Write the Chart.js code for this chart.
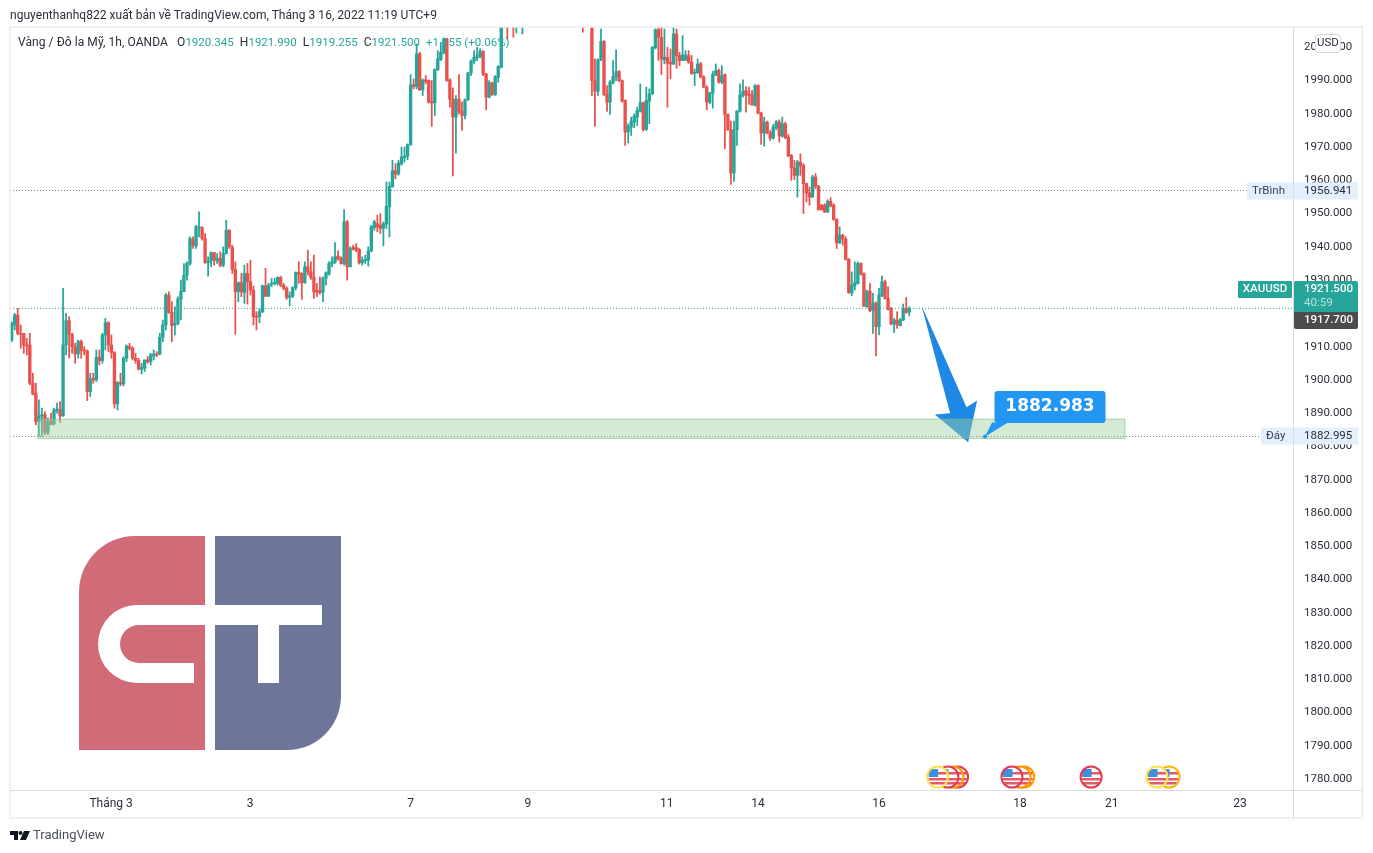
<!DOCTYPE html>
<html>
<head>
<meta charset="utf-8">
<title>XAUUSD</title>
<script src="https://cdn.jsdelivr.net/npm/chart.js"></script>
<style>
body { margin: 0; background: #fff; width: 1373px; height: 853px; overflow: hidden; font-family: Roboto, sans-serif; color: #131722; }
#wrap { position: absolute; left: 0; top: 0; width: 1373px; height: 853px; }
#head { position: absolute; left: 10px; top: 8px; font-size: 12px; letter-spacing: 0.04px; color: #2a2e39; white-space: pre; }
#info { position: absolute; left: 18px; top: 35px; font-size: 12px; letter-spacing: 0.07px; color: #2a2e39; white-space: pre; }
#info b { font-weight: 400; font-size: 11.5px; letter-spacing: 0; color: #26a69a; }
#foot { position: absolute; left: 33px; top: 827px; font-size: 13px; color: #4a4e59; }
#mark { position: absolute; left: 10px; top: 830px; }
</style>
</head>
<body>
<div id="wrap"><canvas id="ess" width="1373" height="853"></canvas></div>
<div id="head">nguyenthanhq822 xuất bản về TradingView.com, Tháng 3 16, 2022 11:19 UTC+9</div>
<div id="info">Vàng / Đô la Mỹ, 1h, OANDA   O<b>1920.345</b>  H<b>1921.990</b>  L<b>1919.255</b>  C<b>1921.500</b>  <b>+1.155 (+0.06%)</b></div>
<svg id="mark" width="20" height="11" viewBox="0 0 20 11"><path d="M0 1h8v9H4V5H0z M14 1h6l-4 9h-6z" fill="#131722"/><circle cx="10.5" cy="3" r="2" fill="#131722"/></svg>
<div id="foot">TradingView</div>
<script>
const opens = [1912,1916.5,1919.5,1914,1914,1910.5,1910.5,1899,1896,1887.5,1889.2,1889.5,1884.2,1887.8,1886.8,1890.8,1891,1889.2,1910.5,1917.8,
1913.7,1910,1907.8,1911.5,1909,1908.7,1896.5,1900.5,1900,1906.8,1905.8,1913.5,1917.2,1910.5,1908.2,1892.8,1899.2,1898.8,1906.5,1910,
1909.5,1906.5,1905.8,1903.2,1903.5,1906,1905.5,1907.2,1907.8,1907.8,1912.8,1916.5,1925.5,1920.3,1916.5,1917,1924.3,1926.5,1931.5,1935,
1942.2,1940.3,1945.8,1945.8,1942.5,1935.2,1935.8,1938.3,1935.8,1936.5,1934.5,1938,1945,1939.8,1933.2,1926.5,1929.2,1926.2,1932,1929.5,
1927,1919,1919,1920.5,1928.3,1925.2,1928.7,1929,1929,1930.8,1928.5,1927.5,1924.8,1925.2,1927.8,1932.3,1932,1929.2,1934,1932.5,
1930.8,1927,1926.8,1926.3,1930.5,1931.8,1935,1935.3,1937.2,1936.5,1935,1947.5,1934,1939.8,1939.8,1939.2,1935.2,1935.8,1936,1938.8,
1945.8,1947,1946.5,1945.6,1946.8,1952,1958,1962.9,1962,1965,1966.8,1967.2,1970.7,1988.7,1988.2,1998,1987.2,1990.2,1990,1983.7,
1983.3,1993.3,1996.2,1998.3,2002.5,1990.2,1984.4,1979,1984.4,1980.8,1979.5,1984.2,1992.3,1995.8,1996.8,1997.3,1998.8,1992,1985,1989.3,
1985.8,1991,1994,2010,2014,2012,2016,2012,2017,2018,2022,2030,2038,2034,2044,2052,2046,2058,2050,2044,
2038,2046,2036,2030,2034,2028,2022,2026,2020,2018,2014,2016,2012,1990,1986.8,1996.2,2001.8,1985.7,1983.5,1989.3,
1991,1992.7,1990,1984,1974.5,1976,1977.5,1979,1980.8,1983.3,1975.3,1983.8,1986,1999.8,2005.3,2003,1996.2,1997,1995.5,1995,
2004,1997.5,1996,1996.2,1997.5,1995.5,1992.2,1992.3,1995,1991,1988,1983.5,1986.2,1991.6,1993,1989.5,1991.8,1979.8,1975.2,1962.2,
1975.2,1980.8,1985.5,1987,1986,1985.7,1982.5,1988.5,1980.2,1974.2,1977.5,1974.2,1972.7,1975.8,1977.6,1973.3,1977,1973,1967.5,1963.7,
1961.5,1965.5,1964.5,1959,1956.2,1955,1961,1958.2,1952.5,1952.5,1950.5,1953.7,1952.5,1948.2,1941.2,1943.5,1942.3,1936.2,1926.2,1928.3,
1929,1935,1932,1922,1926.7,1920.8,1923.2,1916,1925.3,1929.5,1924.5,1921.5,1916.8,1918,1916.3,1918,1921.3,1920.345];
const closes = [1917,1919.5,1914,1913.7,1910.5,1910.2,1899,1895.7,1887.5,1889.2,1889.5,1884.2,1887.5,1886.6,1891,1891.2,1889.2,1910.5,1917.8,1913.7,
1910,1907.8,1911.5,1908.8,1908.7,1896.5,1900.3,1900,1906.8,1905.8,1913.5,1917.2,1910.5,1908.2,1892.8,1899.2,1898.8,1906.5,1910.2,1909.5,
1906.5,1905.8,1903.2,1903.7,1906,1905.5,1907.5,1907.8,1907.5,1912.8,1916.5,1925.5,1920.3,1916.3,1917,1924.3,1926.7,1931.5,1935,1942.5,
1940.3,1946,1946,1942.5,1935.3,1935.8,1938.3,1936,1936.5,1934.5,1938,1945,1940,1933.2,1926.5,1929.2,1926.5,1932,1929.5,1927,
1919,1918.8,1920.5,1928.3,1925.2,1928.5,1929,1929.3,1930.8,1928.5,1927.5,1924.8,1925.3,1927.8,1932.3,1931.8,1929.2,1934,1932.5,1930.8,
1926.5,1926.3,1926.3,1930.5,1932.2,1935,1935.5,1937,1936.4,1935,1947.5,1934,1939.5,1939.3,1939,1935.2,1936,1936.2,1938.8,1946,
1947.5,1946,1945.6,1947,1952.2,1958.2,1962.9,1961.8,1965.2,1967,1967.2,1970.7,1988.7,1988.2,1998,1987.2,1990.2,1989.7,1983.5,1983.3,
1993.3,1996.5,1998.5,2002.5,1990,1984.4,1979,1984.4,1980.8,1979.5,1984.2,1992.3,1995.8,1997,1997.5,1998.8,1992,1985,1989.3,1985.8,
1991.2,1994.2,2010,2014,2012,2016,2012,2017,2019,2022,2030,2038,2034,2044,2052,2046,2058,2050,2044,2038,
2046,2036,2030,2034,2028,2022,2026,2020,2018,2014,2016,2012,1990,1986.8,1996.2,2001.8,1985.7,1983.5,1989.5,1991.2,
1992.7,1990,1983.8,1974.5,1976.2,1977.8,1979.3,1981,1983.3,1975.3,1984,1986,2000,2005.3,2003,1996.5,1997,1995.2,1995,2004,
1997.5,1996,1997.7,1997.7,1995.5,1992.2,1992.5,1995,1991,1988,1983.5,1986.2,1991.8,1993,1989.5,1991.5,1979.8,1975.2,1962.2,1975.2,
1980.8,1985.7,1986.8,1985.7,1985.5,1982.7,1988.5,1980.2,1974.2,1977.5,1974.2,1972.7,1976,1977.6,1973.3,1977,1972.8,1967.3,1963.7,1961.5,
1965.5,1964.3,1959,1956.2,1955,1961,1958.2,1951.2,1951.2,1950.5,1953.7,1952.3,1948.2,1941.2,1943.5,1942.3,1936.2,1926.2,1928.5,1929.2,
1935,1931.8,1922.2,1926.7,1920.8,1923,1916,1925.5,1929.5,1924.5,1921.2,1916.8,1918,1916.5,1918,1921.3,1920.3,1921.5];
const highs = [1917.5,1920,1921.5,1916.5,1914,1912.5,1914,1902,1899,1894,1891.5,1890.5,1888.5,1890,1891.5,1893,1893.5,1927.5,1920,1919,
1914,1911,1912,1912,1910,1909,1902,1902,1909,1909,1914,1918.5,1917.5,1913.5,1908.5,1899.5,1902,1907,1910.5,1911,
1910,1908,1906.5,1905,1906,1907,1908,1909,1908.5,1914,1918,1926,1926.5,1923.5,1922,1925,1930,1935,1935.5,1943,
1943,1946.5,1950.5,1946,1944,1937,1938.5,1938.3,1938,1938.5,1940,1948,1945.2,1940.5,1935.5,1929.5,1932,1934.5,1935,1936,
1928.2,1920.5,1921.5,1928.5,1933.5,1929,1930.5,1930.5,1931,1931.2,1929,1928,1926.5,1928,1932.5,1935.5,1932.2,1935.5,1939,1935.5,
1937.5,1929,1931,1931,1932.5,1935.5,1937,1941.3,1938.8,1937,1951.2,1948,1940,1940.5,1941,1939.5,1937,1937.5,1940,1946.5,
1948,1949.5,1950,1947.5,1959.5,1959.5,1966,1965,1966,1970,1970,1971,1991.8,1990.5,2001,1998.5,1990.5,1991.5,1990.2,1990,
1993.5,1999,2001.5,2002.8,2002.7,1990.5,1987.8,1985.5,1991.8,1983.5,1984.5,1992.5,1996.2,1999,2000,1999.5,1999,1992.2,1990,1989.5,
1991.5,1994.5,2014,2018,2018,2019,2020,2022,2023,2026,2034,2042,2044,2048,2056,2058,2062,2064,2054,2050,
2050,2048,2042,2038,2038,2032,2030,2030,2024,2022,2020,2020,2014,1996.5,1996.5,2005.5,2002,1988.5,1990,1996,
1999.2,1993,1990.2,1984.2,1977,1979,1980,1982,1989,1983.5,1988,1987.5,2000.2,2005.5,2006,2006,2005.5,2000,1999.5,2006,
2005.5,1998.5,2003.5,1999,1999,1997.5,1993.5,1996.5,1995.5,1991.5,1988.5,1986.5,1992.8,1995,1993.5,1994.5,1992,1980,1977.8,1977.8,
1981,1989,1990.2,1988.2,1988,1987,1988.8,1988.7,1980.5,1979,1977.8,1975,1976.8,1978,1978.2,1979,1977.5,1973.8,1967.8,1966,
1966,1968,1965,1959.2,1958,1961.5,1962,1958.5,1952.8,1953,1954.2,1954.8,1953,1948.5,1946,1943.8,1943,1936.5,1932.5,1935.5,
1935.5,1935.2,1932.2,1927,1929,1926,1923.5,1927.5,1931.2,1930,1928,1921.8,1918.5,1920.5,1918.5,1922.8,1924.8,1921.99];
const lows = [1911.5,1915,1913.5,1909.5,1908,1907.5,1898.5,1895.5,1886.5,1883,1883,1883.5,1883.5,1886.5,1886.5,1890,1887.2,1889,1907.5,1906.5,
1908,1905,1906.5,1906.5,1907.5,1893.8,1895,1899,1899.5,1904.5,1905,1909,1908.5,1906.5,1891.5,1891,1898.2,1898.2,1905.5,1909,
1906,1905,1903,1901.8,1902.5,1905,1904.5,1906,1907,1907.5,1911.5,1915,1920,1911.5,1913.5,1916.5,1918,1926.5,1930,1934.5,
1939.5,1939.5,1943,1942,1935,1931.2,1934,1934.5,1935,1934,1934,1937.8,1939.5,1932,1913.7,1923.5,1925,1923,1922.8,1925.5,
1916.5,1915,1917.2,1920.2,1925,1925,1928,1928.5,1928.5,1928,1927,1924.2,1922.3,1924.7,1927,1929,1924.2,1929,1931.5,1930.2,
1924.5,1925,1925.8,1923.5,1928.5,1931.5,1934,1935,1936,1934.8,1934.5,1930,1934,1939,1938.5,1934.8,1934.5,1935,1934.2,1938.5,
1945,1944.5,1944,1940.3,1945.5,1943,1958,1960.5,1961.5,1964.5,1965.5,1966.2,1970.5,1987.5,1987.5,1987,1985.5,1989,1983.2,1976.2,
1979.5,1993,1996,1998,1989.8,1982,1961.3,1968.2,1980,1975,1978.5,1984,1991.5,1995,1996,1996.8,1991.5,1981.2,1984.8,1985.5,
1985.5,1989.5,1993.8,2006,2002.5,2008,2003,2004.3,2009,2004,2018,2026,2030,2032,2040,2042,2044,2046,2040,2034,
2034,2032,2026,2026,2024,2018,2016,2014,2012,2004.5,2010,2008,1985.5,1976.2,1985.5,1996,1985.5,1980.7,1979.8,1989,
1990,1989.7,1983.5,1970.5,1971.2,1973.5,1975.8,1976.5,1980.5,1974.8,1975,1977,1985.8,1999.5,1996,1991.8,1995,1982,1990.5,1994.8,
1993.7,1994.5,1996,1996,1995.2,1991.8,1988.5,1992.2,1990.8,1987.8,1981.2,1983,1981.7,1991.5,1989.2,1989,1969.5,1975,1958.8,1959.7,
1970.5,1980.5,1985,1980.5,1982.8,1982.5,1982.3,1980,1970.8,1970.3,1974,1972,1972.4,1975.2,1971.5,1973,1972.5,1967.2,1960,1960.2,
1955,1961.5,1950,1953.5,1952.5,1954.8,1957.5,1951,1951,1950.3,1950.3,1952,1948,1939.5,1941,1940.5,1936,1926,1925.3,1927,
1928.8,1931.5,1922,1921.8,1920.5,1914,1907.2,1913.5,1925,1924.3,1921,1916.5,1914.2,1915.5,1916.2,1917.8,1920,1919.255];

// axis
const priceTicks = [1780,1790,1800,1810,1820,1830,1840,1850,1860,1870,1880,1890,1900,1910,1920,1930,1940,1950,1960,1970,1980,1990,2000];
const dayTicks = [32.9,78.9,132,170.8,216.8,247,287,333.7,364,406.5];
const dayLabels = ['Tháng 3','3','7','9','11','14','16','18','21','23'];
const xMin = -0.56, xMax = 424, yMin = 1776.7, yMax = 2006.1;

// price lines
const avgPrice = 1956.941, lastPrice = 1921.5, lowPrice = 1882.995, prevClose = 1917.7;
const lineEnds = [408.7, 413.9, 424]; // TrBình, Đáy labels, axis edge (bar index)

// drawing: zone, arrow, callout, events
const zoneBars = [8.7, 368.4];
const zonePrices = [1888.2, 1882.4];
const arrowFrom = [301.1, 1922.3];
const arrowTo = [316.5, 1881.25];
const calloutAt = [322.1, 1882.995];
const calloutText = '1882.983';
const eventBars = [313, 311.5, 309.8, 306.4, 334.9, 333.7, 331, 357.2, 383, 379];
const eventRings = ['#e53950','#ff9800','#e53950','#ffe14d','#ff9800','#ff9800','#e53950','#e53950','#ffb300','#ffe14d'];

const up = '#26a69a', down = '#e8514e';
const colors = opens.map((o, i) => closes[i] >= o ? up : down);
const bodies = opens.map((o, i) => ({x: i, y: [Math.min(o, closes[i]), Math.max(o, closes[i])]}));
const wicks = lows.map((l, i) => ({x: i, y: [l, highs[i]]}));

function hline(price, end, color) {
  return {type: 'line', data: [{x: xMin, y: price}, {x: end, y: price}], borderColor: color, borderWidth: 1, borderDash: [1, 2], pointRadius: 0, order: 5};
}

function box(ctx, x, y, w, h, fill, r) {
  ctx.fillStyle = fill;
  ctx.beginPath();
  ctx.roundRect(x, y, w, h, r || 0);
  ctx.fill();
}

function label(ctx, txt, x, y, color, font, align) {
  ctx.fillStyle = color;
  ctx.font = font;
  ctx.textAlign = align || 'left';
  ctx.textBaseline = 'middle';
  ctx.fillText(txt, x, y);
}

function drawLogo(ctx) {
  ctx.fillStyle = '#d16b78';
  ctx.beginPath();
  ctx.roundRect(79, 536, 126, 214, [56, 0, 0, 0]);
  ctx.fill();
  ctx.fillStyle = '#6d7699';
  ctx.beginPath();
  ctx.roundRect(215, 536, 126, 214, [0, 0, 54, 0]);
  ctx.fill();
  ctx.fillStyle = '#fff';
  ctx.beginPath();
  ctx.moveTo(205, 605);
  ctx.lineTo(137, 605);
  ctx.arc(137, 644, 39, -Math.PI / 2, Math.PI / 2, true);
  ctx.lineTo(194, 683);
  ctx.lineTo(194, 663);
  ctx.lineTo(139, 663);
  ctx.arc(139, 644, 19, Math.PI / 2, -Math.PI / 2, false);
  ctx.lineTo(205, 625);
  ctx.closePath();
  ctx.fill();
  ctx.fillRect(215, 605, 107, 20);
  ctx.fillRect(258, 625, 21, 58);
}

function drawFlag(ctx, x, y, ring) {
  ctx.save();
  ctx.beginPath();
  ctx.arc(x, y, 10.5, 0, Math.PI * 2);
  ctx.fillStyle = '#fff';
  ctx.fill();
  ctx.clip();
  ctx.fillStyle = '#e25a6a';
  ctx.fillRect(x - 1, y - 5, 10, 2.5);
  ctx.fillRect(x - 9, y + 1, 18, 2.5);
  ctx.fillRect(x - 9, y + 5, 18, 2.5);
  ctx.fillStyle = '#3d8fe0';
  ctx.fillRect(x - 9, y - 8, 9.5, 8);
  ctx.restore();
  ctx.beginPath();
  ctx.arc(x, y, 10.5, 0, Math.PI * 2);
  ctx.strokeStyle = ring;
  ctx.lineWidth = 2;
  ctx.stroke();
}

const overlay = {
  id: 'overlay',
  afterDraw(chart) {
    const ctx = chart.ctx, sx = chart.scales.x, sy = chart.scales.y, area = chart.chartArea;
    const px = v => sx.getPixelForValue(v), py = v => sy.getPixelForValue(v);
    ctx.save();

    drawLogo(ctx);

    // frame
    ctx.strokeStyle = '#e9ebef';
    ctx.lineWidth = 1.5;
    ctx.strokeRect(10, 27, 1352.5, 791);
    ctx.strokeStyle = '#d9dbe0';
    ctx.lineWidth = 1;
    ctx.beginPath();
    ctx.moveTo(10, area.bottom + 0.5); ctx.lineTo(1362, area.bottom + 0.5);
    ctx.moveTo(area.right + 0.5, 27); ctx.lineTo(area.right + 0.5, 818);
    ctx.stroke();

    // arrow
    const ax = px(arrowFrom[0]), ay = py(arrowFrom[1]), tx = px(arrowTo[0]), ty = py(arrowTo[1]);
    ctx.fillStyle = '#1e88e5';
    ctx.beginPath();
    ctx.moveTo(ax, ay);
    ctx.lineTo(tx - 1.6, ty - 35);
    ctx.lineTo(tx + 9, ty - 41.7);
    ctx.lineTo(tx, ty);
    ctx.lineTo(tx - 33.3, ty - 27.7);
    ctx.lineTo(tx - 18, ty - 29);
    ctx.closePath();
    ctx.fill();

    // zone
    const zx = px(zoneBars[0]), zw = px(zoneBars[1]) - zx, zy = py(zonePrices[0]), zh = py(zonePrices[1]) - zy;
    ctx.fillStyle = 'rgba(162,209,162,0.45)';
    ctx.fillRect(zx, zy, zw, zh);
    ctx.strokeStyle = 'rgba(120,190,120,0.6)';
    ctx.strokeRect(zx, zy, zw, zh);

    // callout
    const cx = px(calloutAt[0]), cy = py(calloutAt[1]);
    box(ctx, 994.5, 391, 111, 32, '#2196f3', 3);
    ctx.fillStyle = '#2196f3';
    ctx.beginPath();
    ctx.moveTo(cx, cy);
    ctx.lineTo(cx + 7, cy - 14);
    ctx.lineTo(cx + 23, cy - 14);
    ctx.closePath();
    ctx.fill();
    ctx.beginPath();
    ctx.arc(cx, cy, 2, 0, Math.PI * 2);
    ctx.fill();
    label(ctx, calloutText, 1050, 407, '#fff', 'bold 17px "DejaVu Sans"', 'center');

    // events
    const ey = area.bottom - 13;
    eventBars.forEach((b, i) => drawFlag(ctx, px(b), ey, eventRings[i]));

    // price labels
    const font = '11.5px Roboto', bold = '500 11.5px Roboto', valX = 1304;
    const avgY = Math.round(py(avgPrice)), lastY = Math.round(py(lastPrice)), lowY = Math.round(py(lowPrice));
    box(ctx, 1247, avgY - 8.5, 46, 17, '#e3effd');
    box(ctx, 1294, avgY - 8.5, 64, 17, '#e3effd');
    label(ctx, 'TrBình', 1252, avgY, '#3a3f4b', font);
    label(ctx, avgPrice.toFixed(3), valX, avgY, '#2a2e39', font);

    box(ctx, 1261, lowY - 8.5, 32, 17, '#e3effd');
    box(ctx, 1294, lowY - 8.5, 64, 17, '#e3effd');
    label(ctx, 'Đáy', 1266, lowY, '#3a3f4b', font);
    label(ctx, lowPrice.toFixed(3), valX, lowY, '#2a2e39', font);

    box(ctx, 1238, lastY - 27, 54, 17, up, 1);
    label(ctx, 'XAUUSD', 1265, lastY - 18.5, '#fff', bold, 'center');
    box(ctx, 1294, lastY - 27, 64, 32, up, [2, 2, 0, 0]);
    label(ctx, lastPrice.toFixed(3), valX, lastY - 18.5, '#fff', bold);
    label(ctx, '40:59', valX, lastY - 4.5, '#b9e3dd', font);
    box(ctx, 1294, lastY + 4, 64, 17, '#4c4c4c', [0, 0, 2, 2]);
    label(ctx, prevClose.toFixed(3), valX, lastY + 12.5, '#fff', bold);

    // currency button
    box(ctx, 1315.5, 34.5, 25, 18, '#fff', 3);
    ctx.strokeStyle = '#d6d8de';
    ctx.lineWidth = 1;
    ctx.beginPath();
    ctx.roundRect(1315.5, 34.5, 25, 18, 3);
    ctx.stroke();
    label(ctx, 'USD', 1328, 43, '#2a2e39', font, 'center');

    ctx.restore();
  }
};

new Chart(document.getElementById('ess'), {
  type: 'bar',
  plugins: [overlay],
  data: {
    datasets: [
      {data: bodies, backgroundColor: colors, grouped: false, barPercentage: 1, categoryPercentage: 1, maxBarThickness: 2.7, minBarLength: 1, borderWidth: 0, order: 1},
      {data: wicks, backgroundColor: colors, grouped: false, barPercentage: 1, categoryPercentage: 1, maxBarThickness: 1.1, borderWidth: 0, order: 2},
      hline(avgPrice, lineEnds[0], '#787b86'),
      hline(lowPrice, lineEnds[1], '#787b86'),
      hline(lastPrice, lineEnds[2], '#26a69a')
    ]
  },
  options: {
    responsive: false,
    animation: false,
    events: [],
    layout: {padding: {left: 10, top: 27, right: 10, bottom: 35}},
    plugins: {legend: {display: false}, tooltip: {enabled: false}},
    scales: {
      x: {
        type: 'linear',
        offset: false,
        min: xMin,
        max: xMax,
        grid: {display: false, drawTicks: false},
        border: {display: false},
        afterBuildTicks(axis) { axis.ticks = dayTicks.map(v => ({value: v})); },
        afterFit(axis) { axis.height = 28; },
        ticks: {
          autoSkip: false,
          maxRotation: 0,
          padding: 7,
          color: '#2a2e39',
          font: {family: 'Roboto', size: 12},
          callback(v, i) { return dayLabels[i]; }
        }
      },
      y: {
        position: 'right',
        min: yMin,
        max: yMax,
        grid: {display: false, drawTicks: false},
        border: {display: false},
        afterBuildTicks(axis) { axis.ticks = priceTicks.map(v => ({value: v})); },
        afterFit(axis) { axis.width = 70; },
        ticks: {
          padding: 11,
          color: '#2a2e39',
          font: {family: 'Roboto', size: 11.5},
          callback(v) { return v.toFixed(3); }
        }
      }
    }
  }
});
</script>
</body>
</html>
